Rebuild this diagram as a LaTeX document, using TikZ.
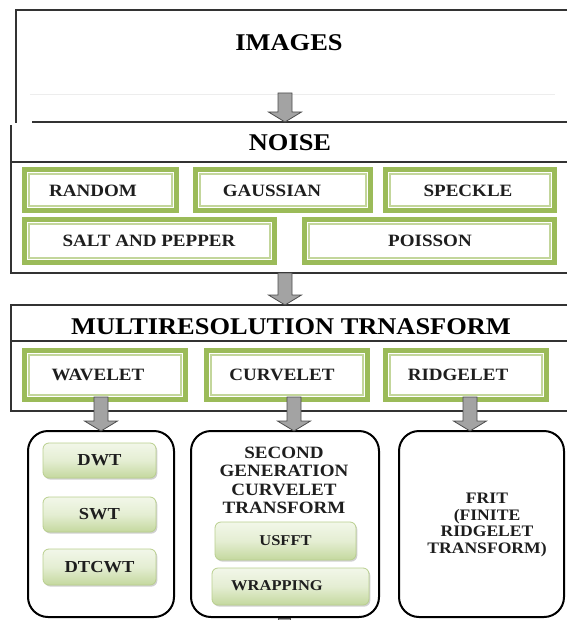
\documentclass[tikz,border=0pt]{standalone}
\usepackage{fontspec}
\setmainfont{Liberation Serif}[FakeStretch=1.1]
\usetikzlibrary{calc,shadows}

\definecolor{leafgreen}{HTML}{9BBB59}
\definecolor{leaflight}{HTML}{C3D69B}
\definecolor{leafedge}{HTML}{B9CF8E}
\definecolor{leaftop}{HTML}{F2F7E9}
\definecolor{leafbottom}{HTML}{C4D89E}
\definecolor{arrowgray}{HTML}{A3A3A3}
\definecolor{inkdark}{HTML}{1E1E1E}

\tikzset{
  every node/.style={inner sep=0pt, outer sep=0pt},
  panel line/.style={draw=black!80, line width=1.5pt},
  title/.style={font=\fontsize{24}{24}\selectfont\bfseries, text=black},
  glabel/.style={font=\fontsize{17.3}{18}\selectfont\bfseries, text=inkdark},
  greenbox/.style={rectangle, draw=leafgreen, line width=5pt, fill=white,
    path picture={\draw[leaflight, line width=1.4pt]
      ([shift={(4.6pt,-4.6pt)}]path picture bounding box.north west) rectangle
      ([shift={(-4.6pt,4.6pt)}]path picture bounding box.south east);}},
  leafstyle/.style={rectangle, rounded corners=6pt, draw=leafedge, line width=0.8pt,
    top color=leaftop, bottom color=leafbottom, middle color=leaftop!70!leafbottom,
    drop shadow={shadow xshift=1.3pt, shadow yshift=-1.6pt, opacity=0.3, fill=black!60},
    font=\fontsize{16.8}{18}\selectfont\bfseries, text=inkdark},
  roundbox/.style={rectangle, draw=black, line width=2pt, rounded corners=20pt, fill=white},
  blockarrow/.style={fill=arrowgray, draw=black!70, line width=0.8pt},
  boxtext/.style={align=center, text=inkdark},
}

% green double-framed box: name, x1, y1, x2, y2 (outer edges)
\newcommand\gbox[5]{%
  \node[greenbox, minimum width={(#4-#2-5)*1pt}, minimum height={(#5-#3-5)*1pt}]
    (#1) at ({(#2+#4)/2},{(#3+#5)/2}) {};}
% shaded rounded box: name, x1, y1, x2, y2, options, text
\newcommand\leafbox[7]{%
  \node[leafstyle, minimum width={(#4-#2)*1pt}, minimum height={(#5-#3)*1pt}, #6]
    (#1) at ({(#2+#4)/2},{(#3+#5)/2}) {#7};}
% grey block arrow from a start point down to a tip point
\newcommand\blockarr[2]{%
  \path[blockarrow] let \p1=(#1), \p2=(#2) in
    (\x1-7pt,\y1) -- (\x1+7pt,\y1) -- (\x1+7pt,\y2+10pt) -- (\x1+16.5pt,\y2+10pt)
    -- (\x1,\y2) -- (\x1-16.5pt,\y2+10pt) -- (\x1-7pt,\y2+10pt) -- cycle;}

\begin{document}
\begin{tikzpicture}[x=1pt,y=-1pt]
\useasboundingbox (0,0) rectangle (567,620);

% panel regions
\node[minimum width=551pt, minimum height=112pt] (imgpanel) at (291.5,66) {};
\node[minimum width=556pt, minimum height=151pt] (noisepanel) at (289,197.5) {};
\node[minimum width=556pt, minimum height=106pt] (mrpanel) at (289,358) {};

% IMAGES panel, open on the right
\draw[panel line] (567,10) -- (16,10) -- (16,123);
\draw[black!7, line width=0.6pt] (30,94) -- (555,94);
\draw[panel line] (32,122) -- (567,122);
\node[title] (imgT) at (289,43) {IMAGES};

% NOISE panel
\draw[panel line] (11,125) -- (11,273) -- (567,273);
\draw[panel line] (11,162) -- (567,162);
\node[title] (noiseT) at (290,143) {NOISE};

\gbox{random}{22}{167}{179}{213}
\gbox{gauss}{193}{167}{373}{213}
\gbox{speckle}{383}{167}{557}{213}
\gbox{salt}{22}{217}{277}{265}
\gbox{poisson}{302}{217}{557}{265}
\node[glabel] (randomT) at (93,191) {RANDOM};
\node[glabel] (gaussT) at (272,191) {GAUSSIAN};
\node[glabel] (speckleT) at (468,191) {SPECKLE};
\node[glabel] (saltT) at (149,241) {SALT AND PEPPER};
\node[glabel] (poissonT) at (430,241) {POISSON};

% MULTIRESOLUTION panel
\draw[panel line] (567,305) -- (11,305) -- (11,411) -- (567,411);
\draw[panel line] (11,341) -- (567,341);
\node[title] (mrT) at (291,327) {MULTIRESOLUTION TRNASFORM};

\gbox{wavelet}{22}{348}{188}{402}
\gbox{curvelet}{204}{348}{370}{402}
\gbox{ridgelet}{383}{348}{549}{402}
\node[glabel] (waveletT) at (98,375) {WAVELET};
\node[glabel] (curveletT) at (282,375) {CURVELET};
\node[glabel] (ridgeletT) at (458,375) {RIDGELET};

% lower rounded panels
\node[roundbox, minimum width=146pt, minimum height=186pt] (leftbox) at (101,524) {};
\node[roundbox, minimum width=188pt, minimum height=186pt] (midbox) at (285,524) {};
\node[roundbox, minimum width=165pt, minimum height=186pt] (rightbox) at (481.5,524) {};

\leafbox{dwt}{43}{443}{156}{478}{}{DWT}
\leafbox{swt}{43}{497}{156}{532}{}{SWT}
\leafbox{dtcwt}{43}{549}{156}{585}{}{DTCWT}
\leafbox{usfft}{215}{522}{356}{560}{font=\fontsize{15}{16}\selectfont\bfseries}{USFFT}
\leafbox{wrap}{212}{568}{369}{605}{}{}
\node[font=\fontsize{15}{16}\selectfont\bfseries, text=inkdark] (wrapT) at (277,586) {WRAPPING};

\node[boxtext, font=\fontsize{17.3}{18.3}\selectfont\bfseries] (sgct) at (284,480.5)
  {SECOND\\GENERATION\\CURVELET\\TRANSFORM};
\node[boxtext, font=\fontsize{16}{16.7}\selectfont\bfseries] (frit) at (487,525)
  {FRIT\\(FINITE\\RIDGELET\\TRANSFORM)};

% arrows between the stages
\coordinate (a1) at (285,93);
\blockarr{a1}{a1 |- noisepanel.north}
\coordinate (a2) at (285,273);
\blockarr{a2}{a2 |- mrpanel.north}
\coordinate (a3) at (101,397);
\blockarr{a3}{a3 |- leftbox.north}
\coordinate (a4) at (294,397);
\blockarr{a4}{a4 |- midbox.north}
\coordinate (a5) at (470,397);
\blockarr{a5}{a5 |- rightbox.north}

% start of the arrow leaving the middle panel
\path[blockarrow] let \p1=(midbox.south) in
  (\x1-7pt,\y1-1pt) rectangle (\x1+5pt,\y1-8pt);
\end{tikzpicture}
\end{document}
